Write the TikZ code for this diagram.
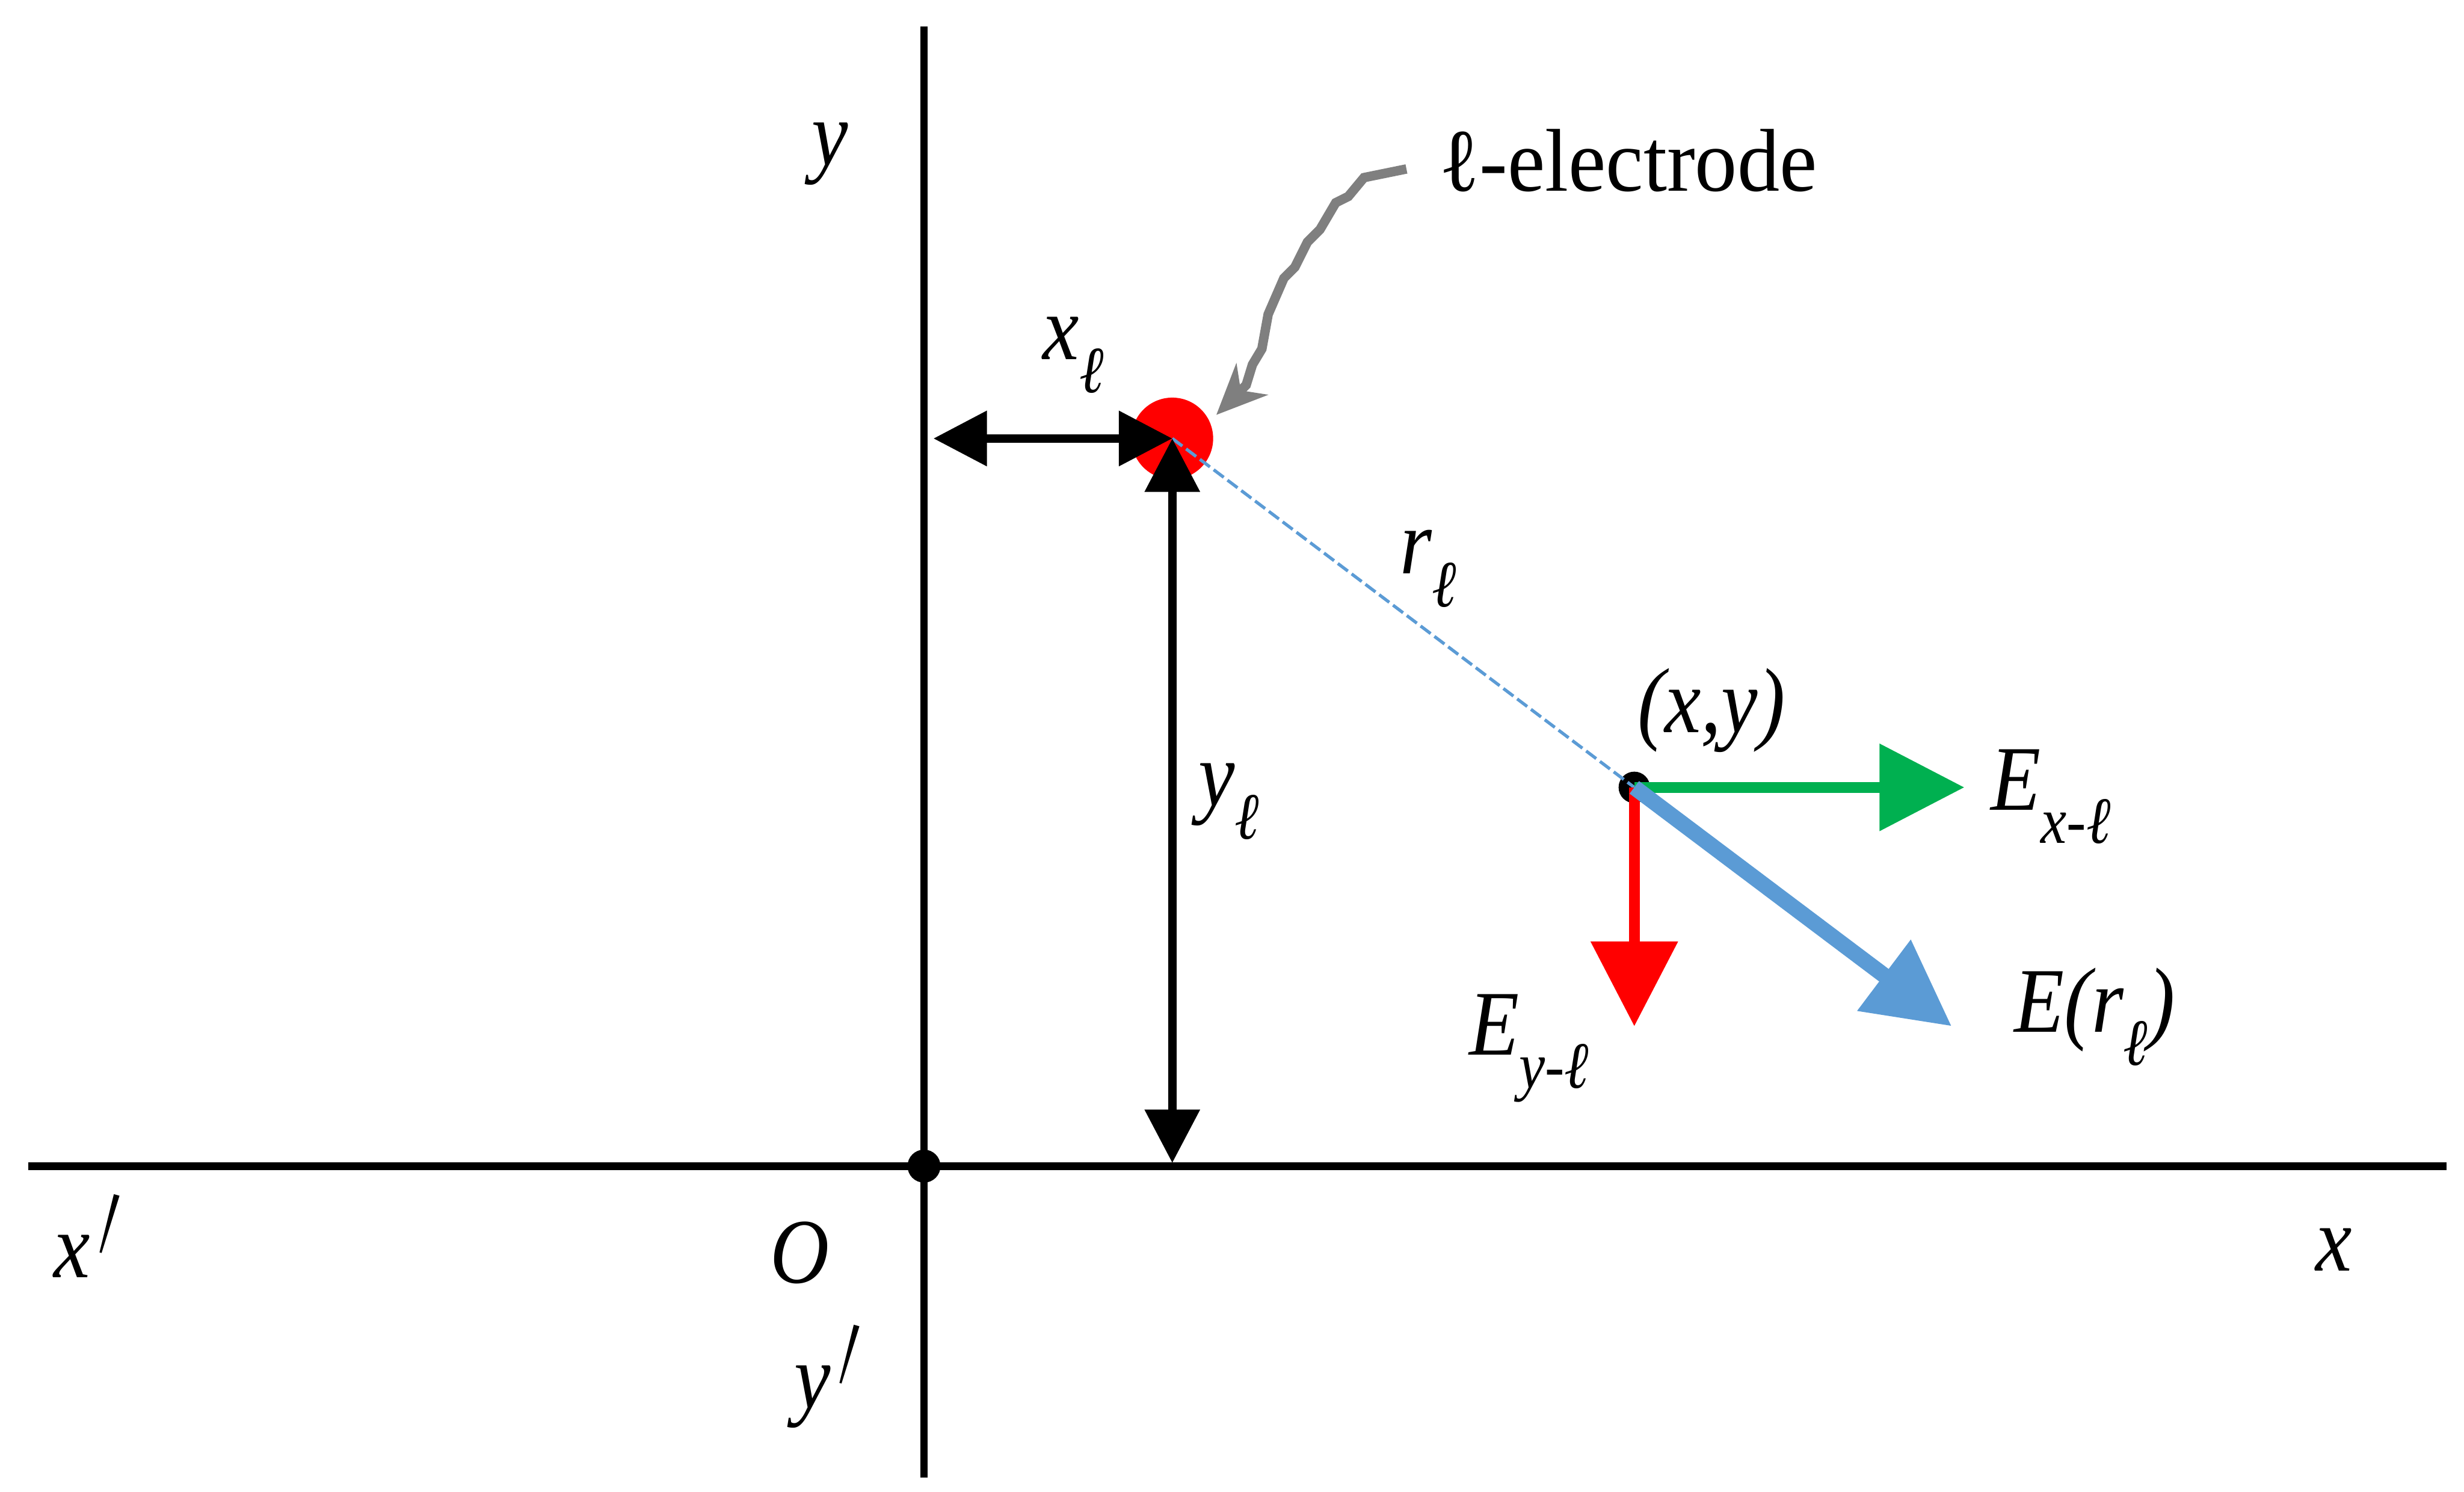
\documentclass[tikz,border=0pt]{standalone}
\usepackage{fontspec}
\setmainfont{Liberation Serif}
\usetikzlibrary{arrows.meta}
\definecolor{fieldblue}{HTML}{5B9BD5}
\definecolor{fieldgreen}{HTML}{00B050}
\definecolor{leadgray}{HTML}{7F7F7F}
\newcommand{\lowsub}[1]{\raisebox{-10pt}{\fontsize{20}{20}\selectfont #1}}
\newcommand{\longprime}{\kern-7pt\raisebox{-25pt}{\rotatebox[origin=c]{-14}{\scalebox{0.8}[3]{\fontsize{26}{26}\selectfont\symbol{"2032}}}}}
\begin{document}
\begin{tikzpicture}[x=0.5pt,y=-0.5pt,
  axisline/.style={black,line width=2.4pt},
  dimline/.style={black,line width=2.7pt,{Triangle[length=17pt,width=17pt]}-{Triangle[length=17pt,width=17pt]}},
  fieldline/.style={line width=3.4pt,-{Triangle[length=27pt,width=27pt]}},
  lbl/.style={font=\fontsize{28}{28}\selectfont\itshape,inner sep=0pt,xscale=0.93,yscale=1.05,transform shape}]
\useasboundingbox (0,0) rectangle (1568,949);

\coordinate (xneg) at (18,742);
\coordinate (xpos) at (1557,742);
\coordinate (ypos) at (588,17);
\coordinate (yneg) at (588,940);
\coordinate (xdimstart) at (594,279);
\coordinate (ydimend) at (746,740);
\coordinate (exend) at (1250,501);
\coordinate (eyend) at (1040,653);
\coordinate (erend) at (1242,653);
\coordinate (leadstart) at (895,107.5);
\coordinate (leadend) at (774,264);

\draw[axisline] (xneg) -- (xpos);
\draw[axisline] (ypos) -- (yneg);
\node[circle,fill=black,inner sep=0pt,minimum size=10.5pt] (origin) at (588,742) {};
\node[circle,fill=red,inner sep=0pt,minimum size=26pt] (elec) at (746,279) {};
\node[circle,fill=black,inner sep=0pt,minimum size=10pt] (pt) at (1040,501) {};

\draw[color=fieldblue,line width=1pt,dash pattern=on 4pt off 1.5pt] (elec.center) -- (pt.center);
\draw[dimline] (xdimstart) -- (elec.center);
\draw[dimline] (elec.center) -- (ydimend);
\draw[fieldline,color=fieldgreen] (pt.center) -- (exend);
\draw[fieldline,color=red] (pt.center) -- (eyend);
\draw[fieldline,color=fieldblue,line width=5pt] (pt.center) -- (erend);
\draw[color=leadgray,line width=3pt,-{Stealth[length=16pt,width=14pt,inset=5pt]}] (leadstart) -- (868,113) -- (858,125) -- (850,129) -- (840,146) -- (832,154) -- (824,170) -- (817,177) -- (807,200) -- (803,222) -- (797,232) -- (793,245) -- (leadend);

\node[lbl] (ylabel) at (528,98) {y};
\node[lbl,font=\fontsize{27}{27}\selectfont,xscale=1.07] (eleclabel) at (1036,102) {\symbol{"2113}-electrode};
\node[lbl] (xdimlabel) at (683,226) {x\lowsub{\symbol{"2113}}};
\node[lbl] (rlabel) at (909,362) {r\lowsub{\symbol{"2113}}};
\node[lbl] (ydimlabel) at (782,510) {y\lowsub{\symbol{"2113}}};
\node[lbl] (ptlabel) at (1089,452) {(x,y)};
\node[lbl] (exlabel) at (1305,507) {E\lowsub{x-\symbol{"2113}}};
\node[lbl] (eylabel) at (973,667) {E\lowsub{y-\symbol{"2113}}};
\node[lbl] (erlabel) at (1333,647) {E(r\lowsub{\symbol{"2113}})};
\node[lbl,anchor=base west] (xneglabel) at (34,813) {x\longprime};
\node[lbl] (olabel) at (509,797) {O};
\node[lbl] (xlabel) at (1485,795) {x};
\node[lbl,anchor=base west] (yneglabel) at (505,896) {y\longprime};
\end{tikzpicture}
\end{document}
